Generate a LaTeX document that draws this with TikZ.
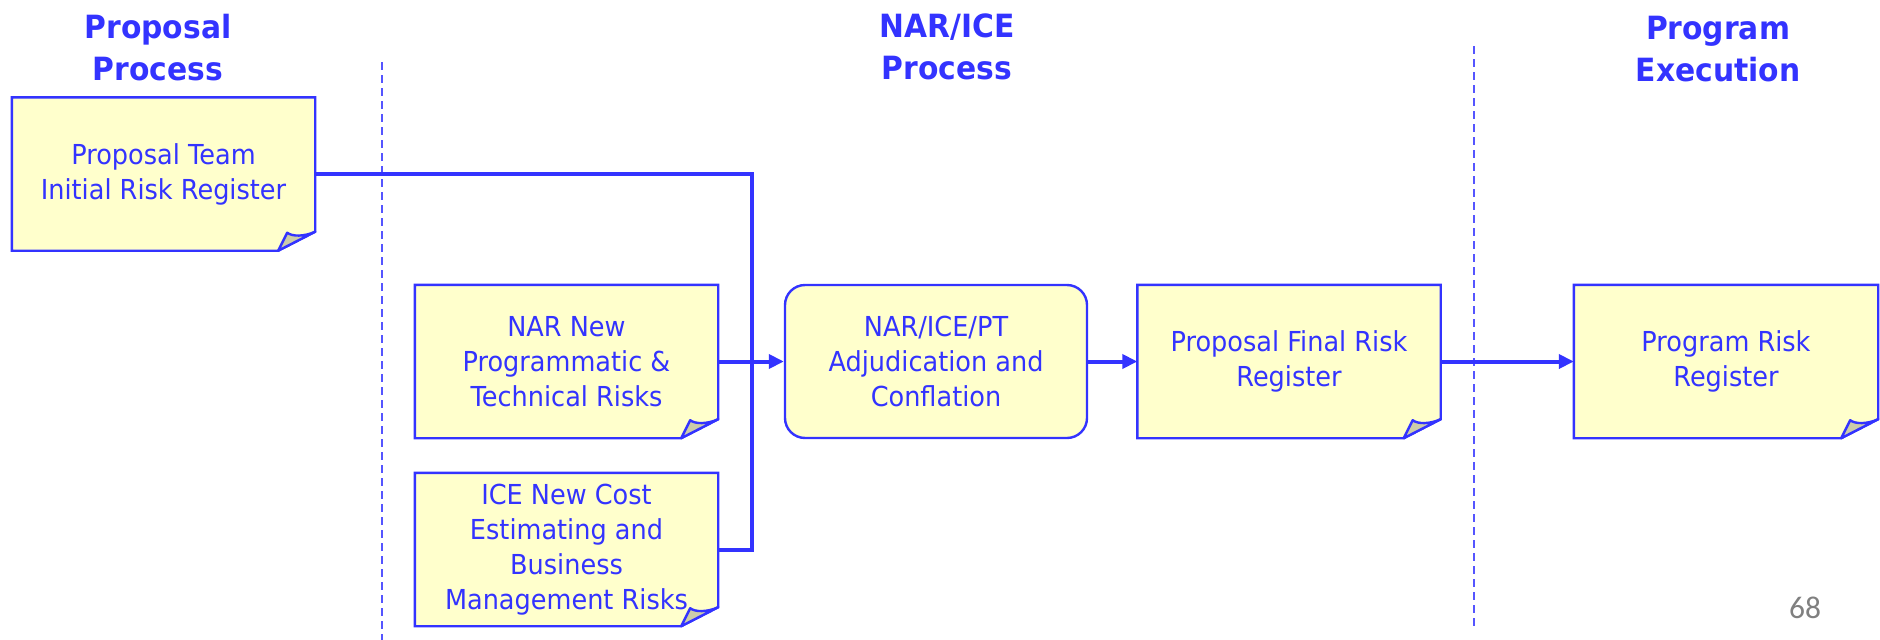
\documentclass[tikz,border=0pt]{standalone}
\usepackage{fontspec}
\usetikzlibrary{arrows.meta,backgrounds,calc}

\newfontfamily\diagfont[FakeStretch=0.93]{DejaVu Sans}
\newfontfamily\pagefont{Carlito}

\definecolor{ink}{RGB}{51,51,255}
\definecolor{paper}{RGB}{255,255,204}
\definecolor{curl}{RGB}{204,204,170}
\definecolor{rule}{RGB}{85,85,255}
\definecolor{pagegray}{RGB}{128,128,128}

\tikzset{
  x=1pt, y=-1pt,
  notetext/.style={minimum width=303pt, minimum height=153pt, inner sep=0pt,
    align=center, text=ink, font=\diagfont\fontsize{27.5}{35}\selectfont},
  notebody/.style={draw=ink, fill=paper, line width=2.4pt, line join=miter},
  notecurl/.style={draw=ink, fill=curl, line width=2.4pt, line join=round},
  roundbox/.style={notetext, draw=ink, fill=paper, line width=2.4pt, rounded corners=20pt},
  header/.style={align=center, text=ink, inner sep=0pt, text depth=0pt, anchor=south,
    font=\diagfont\bfseries\fontsize{32}{42}\selectfont},
  conn/.style={draw=ink, line width=4pt, line join=miter},
  flow/.style={conn, -{Triangle[length=15pt,width=14pt]}},
  divider/.style={draw=rule, line width=1.5pt, dash pattern=on 8pt off 5pt},
}

% sticky note: yellow sheet with its lower right corner curled up
\newcommand\curlnote[1]{%
  \begin{scope}[on background layer]
    \path[notebody] (#1.north west) -- (#1.north east)
      -- ($(#1.south east)+(0,-19)$) -- ($(#1.south east)+(-37,0)$)
      -- (#1.south west) -- cycle;
    \path[notecurl] ($(#1.south east)+(-37,0)$) -- ($(#1.south east)+(-28,-18)$)
      .. controls ($(#1.south east)+(-23,-14)$) and ($(#1.south east)+(-11,-14)$)
      .. ($(#1.south east)+(0,-19)$) -- cycle;
  \end{scope}}

\begin{document}
\begin{tikzpicture}
  \useasboundingbox (0,0) rectangle (1880,640);

  % phase headings
  \node[header] (hprop) at (158,81) {Proposal\\Process};
  \node[header] (hnar)  at (947,80) {NAR/ICE\\Process};
  \node[header] (hexec) at (1718,82) {Program\\Execution};

  % phase dividers
  \coordinate (d1a) at (382,62);
  \coordinate (d1b) at (382,640);
  \coordinate (d2a) at (1474,46);
  \coordinate (d2b) at (1474,626);
  \draw[divider] (d1a) -- (d1b);
  \draw[divider] (d2a) -- (d2b);

  % registers and inputs
  \node[notetext] (team)  at (163.5,174)   {Proposal Team\\Initial Risk Register};
  \node[notetext] (nar)   at (566.5,361.5) {NAR New\\Programmatic \&\\Technical Risks};
  \node[notetext] (ice)   at (566.5,549.5) {ICE New Cost\\Estimating and\\Business\\Management Risks};
  \node[roundbox, minimum width=302pt] (adj) at (936,361.5) {NAR/ICE/PT\\Adjudication and\\Conflation};
  \node[notetext] (final) at (1289,361.5)  {Proposal Final Risk\\Register};
  \node[notetext, minimum width=304pt] (prog) at (1726,361.5) {Program Risk\\Register};

  \curlnote{team}
  \curlnote{nar}
  \curlnote{ice}
  \curlnote{final}
  \curlnote{prog}

  % collecting bus into the adjudication step
  \coordinate (bus) at (752,361.5);
  \draw[conn] (team.east) -| (bus) |- (ice.east);
  \draw[flow] (nar.east) -- (adj.west);
  \draw[flow] (adj.east) -- (final.west);
  \draw[flow] (final.east) -- (prog.west);

  % slide number
  \node[text=pagegray, font=\pagefont\fontsize{31.5}{36}\selectfont, inner sep=0pt]
    (pg) at (1805,608) {68};
\end{tikzpicture}
\end{document}
